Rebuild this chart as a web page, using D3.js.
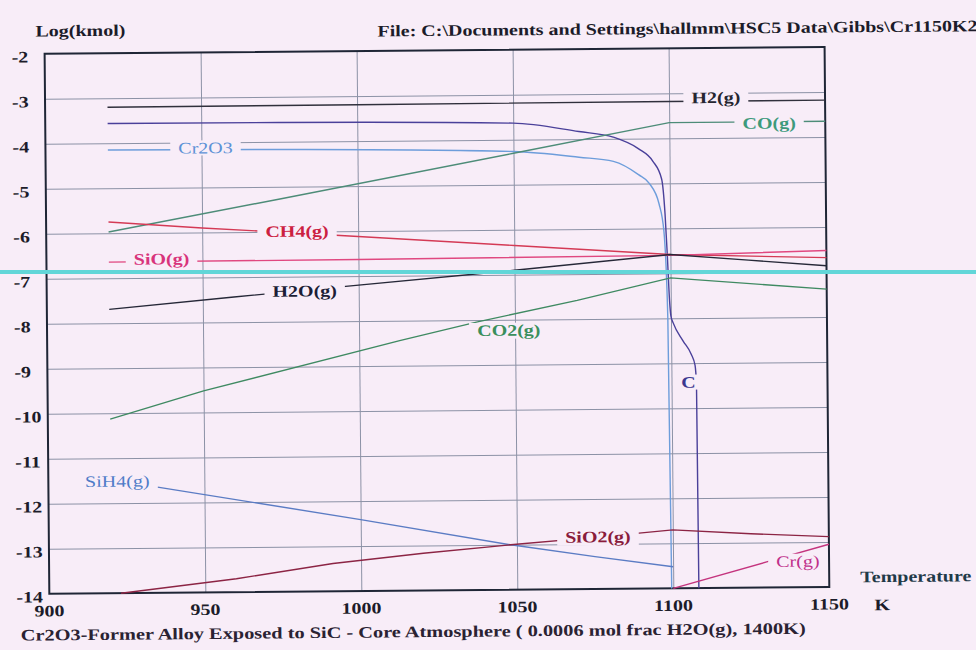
<!DOCTYPE html>
<html lang="en">
<head>
  <meta charset="UTF-8">
  <title>Cr2O3-Former Alloy Exposed to SiC</title>
  <style>
    body { margin: 0; background: #f8edf8; }
    svg { display: block; }
    text { font-family: "Liberation Serif", "Times New Roman", serif; }
  </style>
</head>
<body>
<svg width="976" height="650"></svg>
<script src="https://cdn.jsdelivr.net/npm/d3@7/dist/d3.min.js"></script>
<script>

// axis ticks
var xTicks = [900, 950, 1000, 1050, 1100, 1150];
var yTicks = [-2, -3, -4, -5, -6, -7, -8, -9, -10, -11, -12, -13, -14];

// [temperature K, log(kmol)]
var H2    = [[920, -3.2], [1000, -3.19], [1100, -3.18], [1150, -3.18]];
var C     = [[920, -3.56], [975, -3.57], [1050, -3.63], [1071, -3.83], [1082, -3.96], [1090, -4.22],
             [1094.6, -4.5], [1097.4, -4.9], [1098.4, -5.68], [1099, -6.58], [1099.6, -7.6], [1100, -7.95],
             [1100.7, -8.1], [1103.8, -8.5], [1106.4, -8.8], [1107.6, -9.05], [1108, -9.5], [1108.2, -14]];
var Cr2O3 = [[920, -4.15], [975, -4.17], [1050, -4.26], [1071, -4.4], [1082, -4.5], [1090, -4.8],
             [1093.5, -5.0], [1096.5, -5.45], [1098, -6.07], [1099, -8], [1099.5, -14]];
var CO    = [[920, -5.97], [975, -5.27], [1050, -4.3], [1100, -3.65], [1150, -3.65]];
var CH4   = [[920, -5.75], [950, -5.9], [980, -6.03], [1000, -6.12], [1050, -6.35], [1100, -6.58], [1150, -6.68]];
var SiO   = [[920, -6.64], [1000, -6.63], [1100, -6.6], [1150, -6.52]];
var H2O   = [[920, -7.69], [960, -7.44], [1000, -7.2], [1050, -6.9], [1100, -6.58], [1125, -6.72], [1150, -6.86]];
var CO2   = [[920, -10.13], [950, -9.52], [1013, -8.44], [1038, -8.04], [1070, -7.58], [1100, -7.1], [1150, -7.38]];
var SiH4  = [[935, -11.65], [1000, -12.41], [1048, -13.0], [1075, -13.28], [1100, -13.52]];
var SiO2  = [[923, -14.0], [960, -13.7], [991, -13.38], [1020, -13.17], [1048, -13.0], [1075, -12.85],
             [1100, -12.7], [1125, -12.8], [1150, -12.88]];
var Cr    = [[1100, -14], [1130, -13.43], [1150, -13.05]];

// curve labels: [text, K, log(kmol)]
var labels = [
  ["H2(g)", 1115, -3.1], ["CO(g)", 1132, -3.68], ["Cr2O3", 951.3, -4.12], ["CH4(g)", 980.4, -5.99],
  ["SiO(g)", 936.9, -6.58], ["H2O(g)", 982.7, -7.32], ["CO2(g)", 1048, -8.23], ["C", 1105.4, -9.42],
  ["SiH4(g)", 922.1, -11.51], ["SiO2(g)", 1076, -12.84], ["Cr(g)", 1140, -13.42]
];

var series = [
  {name: "H2(g)",   data: H2,    color: "#30303c", label: "#262630", bold: true},
  {name: "C",       data: C,     color: "#4a409a", label: "#3c3890", bold: true, smooth: true},
  {name: "Cr2O3",   data: Cr2O3, color: "#6d9ddb", label: "#5d92d6", bold: false, smooth: true},
  {name: "CO(g)",   data: CO,    color: "#4d8c78", label: "#3d9a7c", bold: true},
  {name: "CH4(g)",  data: CH4,   color: "#d43a55", label: "#cc2040", bold: true},
  {name: "SiO(g)",  data: SiO,   color: "#e04880", label: "#d8347c", bold: true},
  {name: "H2O(g)",  data: H2O,   color: "#262838", label: "#1c1e36", bold: true},
  {name: "CO2(g)",  data: CO2,   color: "#3f8a62", label: "#3a8f5c", bold: true},
  {name: "SiH4(g)", data: SiH4,  color: "#5b7cc4", label: "#4f7cc8", bold: false},
  {name: "SiO2(g)", data: SiO2,  color: "#8c2444", label: "#8a1c3c", bold: true},
  {name: "Cr(g)",   data: Cr,    color: "#c4347e", label: "#c0308a", bold: false}
];

var bg = "#f8edf8";
var svg = d3.select("svg");
svg.append("rect").attr("width", 976).attr("height", 650).attr("fill", bg);

// the scan is a touch crooked
var g = svg.append("g").attr("transform", "rotate(-0.5, 488, 325)");

var x = d3.scaleLinear().domain([900, 1150]).range([47, 827]);
var y = d3.scaleLinear().domain([-2, -14]).range([50, 590]);

function widen(sel, k) {
  sel.each(function() {
    var w = this.getComputedTextLength();
    d3.select(this).attr("textLength", w * k).attr("lengthAdjust", "spacingAndGlyphs");
  });
}

// grid
var gy = g.append("g").attr("transform", "translate(47,0)")
    .call(d3.axisLeft(y).tickValues(yTicks.slice(1, -1)).tickSize(-780).tickFormat(""));
var gx = g.append("g").attr("transform", "translate(0,590)")
    .call(d3.axisBottom(x).tickValues(xTicks.slice(1, -1)).tickSize(-540).tickFormat(""));
[gy, gx].forEach(function(a) {
  a.select(".domain").remove();
  a.selectAll("line").attr("stroke", "#8c92a6").attr("stroke-width", 1);
});

// frame
g.append("rect").attr("x", 47).attr("y", 50).attr("width", 780).attr("height", 540)
  .attr("fill", "none").attr("stroke", "#1f2636").attr("stroke-width", 2);

// curves
var lin = d3.line().x(function(d) { return x(d[0]); }).y(function(d) { return y(d[1]); });
var smooth = d3.line().x(function(d) { return x(d[0]); }).y(function(d) { return y(d[1]); })
    .curve(d3.curveMonotoneX);

g.append("g").selectAll("path").data(series).enter().append("path")
  .attr("d", function(d) { return (d.smooth ? smooth : lin)(d.data); })
  .attr("fill", "none")
  .attr("stroke", function(d) { return d.color; })
  .attr("stroke-width", 1.4);

// curve labels with a background box
var lab = g.append("g").selectAll("g").data(labels).enter().append("g");
var labRect = lab.append("rect").attr("fill", bg);
var labText = lab.append("text")
  .attr("x", function(d) { return x(d[1]); })
  .attr("y", function(d) { return y(d[2]); })
  .attr("text-anchor", "middle")
  .attr("dominant-baseline", "central")
  .attr("font-size", 16)
  .attr("font-weight", function(d) {
    return series.find(function(s) { return s.name === d[0]; }).bold ? "bold" : "normal";
  })
  .attr("fill", function(d) { return series.find(function(s) { return s.name === d[0]; }).label; })
  .text(function(d) { return d[0]; });
widen(labText, 1.25);
labText.each(function() {
  var b = this.getBBox();
  d3.select(this.previousSibling)
    .attr("x", b.x - 8).attr("y", b.y + 1)
    .attr("width", b.width + 16).attr("height", b.height - 2);
});

// tick labels
var ytl = g.append("g").selectAll("text").data(yTicks).enter().append("text")
  .attr("x", 14).attr("y", function(d) { return y(d) + 3; })
  .attr("dominant-baseline", "central")
  .attr("font-size", 16).attr("font-weight", "bold").attr("fill", "#1c1c2a")
  .text(function(d) { return d; });
widen(ytl, 1.25);

var xtl = g.append("g").selectAll("text").data(xTicks).enter().append("text")
  .attr("x", function(d) { return x(d); }).attr("y", 607)
  .attr("text-anchor", "middle").attr("dominant-baseline", "central")
  .attr("font-size", 16).attr("font-weight", "bold").attr("fill", "#1c1c2a")
  .text(function(d) { return d; });
widen(xtl, 1.25);

var misc = [];
misc.push(g.append("text").attr("x", 38).attr("y", 27).text("Log(kmol)"));
misc.push(g.append("text").attr("x", 380).attr("y", 30)
  .text("File: C:\\Documents and Settings\\hallmm\\HSC5 Data\\Gibbs\\Cr1150K2.OGI"));
misc.push(g.append("text").attr("x", 858).attr("y", 580).attr("fill", "#1f3a48").text("Temperature"));
misc.push(g.append("text").attr("x", 872).attr("y", 608).text("K"));
misc.forEach(function(t) {
  t.attr("dominant-baseline", "central").attr("font-size", 16).attr("font-weight", "bold");
  if (!t.attr("fill")) t.attr("fill", "#1c1c2a");
  widen(t, 1.25);
});

g.append("text").attr("x", 18).attr("y", 631)
  .attr("dominant-baseline", "central")
  .attr("font-size", 16).attr("font-weight", "bold").attr("fill", "#2a2232")
  .attr("textLength", 785).attr("lengthAdjust", "spacingAndGlyphs")
  .text("Cr2O3-Former Alloy Exposed to SiC - Core Atmosphere ( 0.0006 mol frac H2O(g), 1400K)");

// scanner streak
svg.append("line").attr("x1", 0).attr("x2", 976).attr("y1", 272).attr("y2", 272)
  .attr("stroke", "#62d6d8").attr("stroke-width", 4);

</script>
</body>
</html>
